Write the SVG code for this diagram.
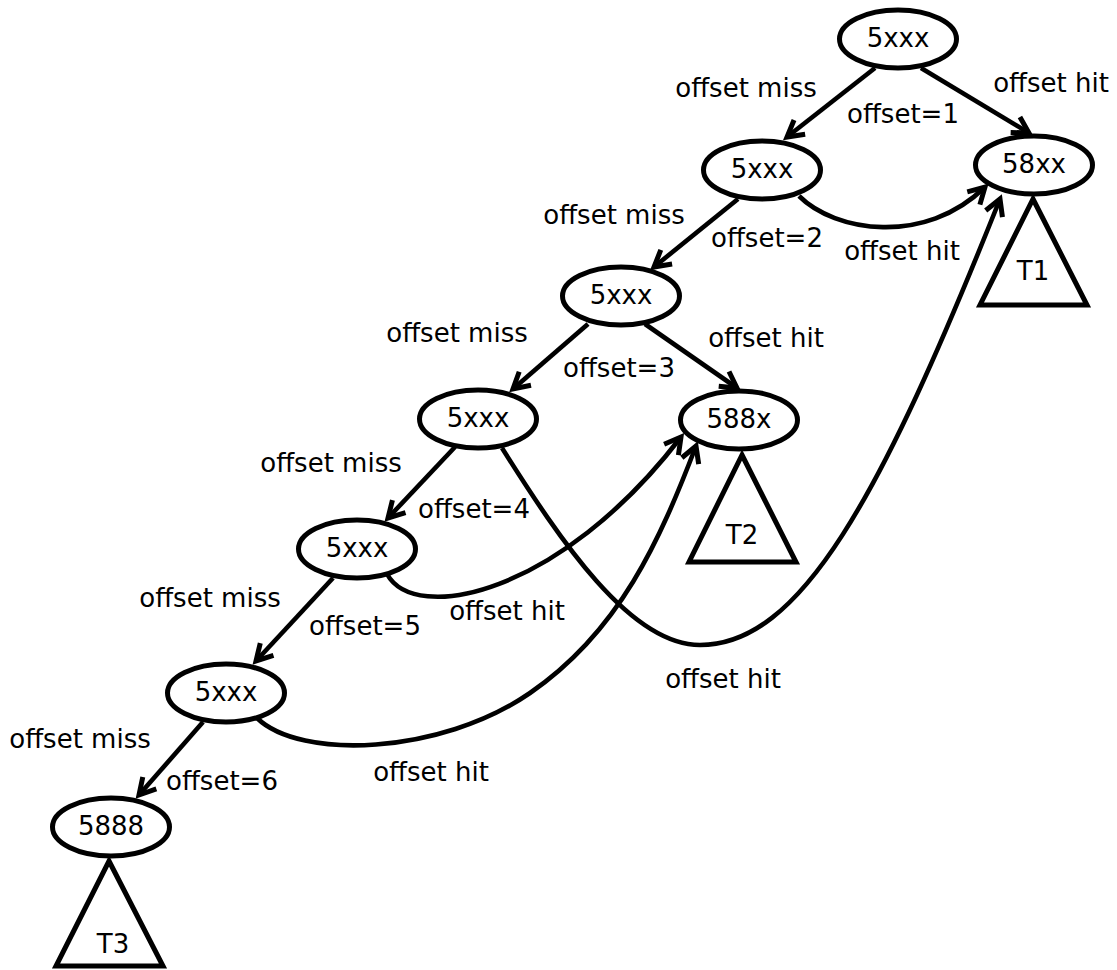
<svg xmlns="http://www.w3.org/2000/svg" width="1117" height="970" viewBox="0 0 1117 970">
<style>
.n{fill:#fff;stroke:#000;stroke-width:5}
.t{fill:#fff;stroke:#000;stroke-width:5;stroke-linejoin:miter}
.e{fill:none;stroke:#000;stroke-width:4.6;marker-end:url(#ah)}
text{font-family:"DejaVu Sans","Liberation Sans",sans-serif;font-size:26px;fill:#000;text-anchor:middle}
</style>
<defs>
<marker id="ah" markerUnits="userSpaceOnUse" markerWidth="34" markerHeight="34" viewBox="-24 -17 34 34" refX="0" refY="0" orient="auto">
<path d="M-16,-9 L0,0 L-16,9" fill="none" stroke="#000" stroke-width="5" stroke-linejoin="miter"/>
</marker>
</defs>
<rect width="1117" height="970" fill="#fff"/>
<g id="connectors">
<path class="e" d="M875,68 L787,137"/>
<path class="e" d="M921,68 L1029,133"/>
<path class="e" d="M738,199 L654,267"/>
<path class="e" d="M588,324 L513,389"/>
<path class="e" d="M645,324 L737,388"/>
<path class="e" d="M455,447 L388,518"/>
<path class="e" d="M333,578 L256,661"/>
<path class="e" d="M203,722 L139,795"/>
<path class="e" d="M799,196 C835,232 925,246 985,187"/>
<path class="e" d="M502,448 C560,540 630,645 700,645 C800,645 880,500 1000,199"/>
<path class="e" d="M387,574 C415,625 560,595 681,437"/>
<path class="e" d="M257,718 C300,760 440,755 530,693 S660,540 696,446"/>
<text x="746" y="97">offset miss</text>
<text x="903" y="123">offset=1</text>
<text x="1051" y="92">offset hit</text>
<text x="614" y="224">offset miss</text>
<text x="767" y="247">offset=2</text>
<text x="902" y="260">offset hit</text>
<text x="457" y="342">offset miss</text>
<text x="619" y="377">offset=3</text>
<text x="766" y="347">offset hit</text>
<text x="331" y="472">offset miss</text>
<text x="474" y="518">offset=4</text>
<text x="210" y="607">offset miss</text>
<text x="365" y="635">offset=5</text>
<text x="507" y="620">offset hit</text>
<text x="723" y="688">offset hit</text>
<text x="80" y="748">offset miss</text>
<text x="222" y="790">offset=6</text>
<text x="431" y="781">offset hit</text>
</g>
<g id="n0"><ellipse class="n" cx="898" cy="39" rx="58.5" ry="29"/><text x="898" y="47">5xxx</text></g>
<g id="n1"><ellipse class="n" cx="762" cy="170" rx="58.5" ry="29"/><text x="762" y="178">5xxx</text></g>
<g id="n58xx"><ellipse class="n" cx="1034" cy="165" rx="58.5" ry="29"/><text x="1034" y="173">58xx</text></g>
<g id="n2"><ellipse class="n" cx="621" cy="296" rx="58.5" ry="29"/><text x="621" y="304">5xxx</text></g>
<g id="n3"><ellipse class="n" cx="478" cy="419" rx="58.5" ry="29"/><text x="478" y="427">5xxx</text></g>
<g id="n588x"><ellipse class="n" cx="739" cy="420" rx="58.5" ry="29"/><text x="739" y="428">588x</text></g>
<g id="n4"><ellipse class="n" cx="357" cy="549" rx="58.5" ry="29"/><text x="357" y="557">5xxx</text></g>
<g id="n5"><ellipse class="n" cx="226" cy="693" rx="58.5" ry="29"/><text x="226" y="701">5xxx</text></g>
<g id="n5888"><ellipse class="n" cx="111" cy="827" rx="58.5" ry="29"/><text x="111" y="835">5888</text></g>
<g id="t1"><polygon class="t" points="1033,199 1087,305 980,305"/><text x="1033" y="280">T1</text></g>
<g id="t2"><polygon class="t" points="742,455 796,562 689,562"/><text x="742" y="544">T2</text></g>
<g id="t3"><polygon class="t" points="109,861 163,966 56,966"/><text x="113" y="953">T3</text></g>
</svg>
